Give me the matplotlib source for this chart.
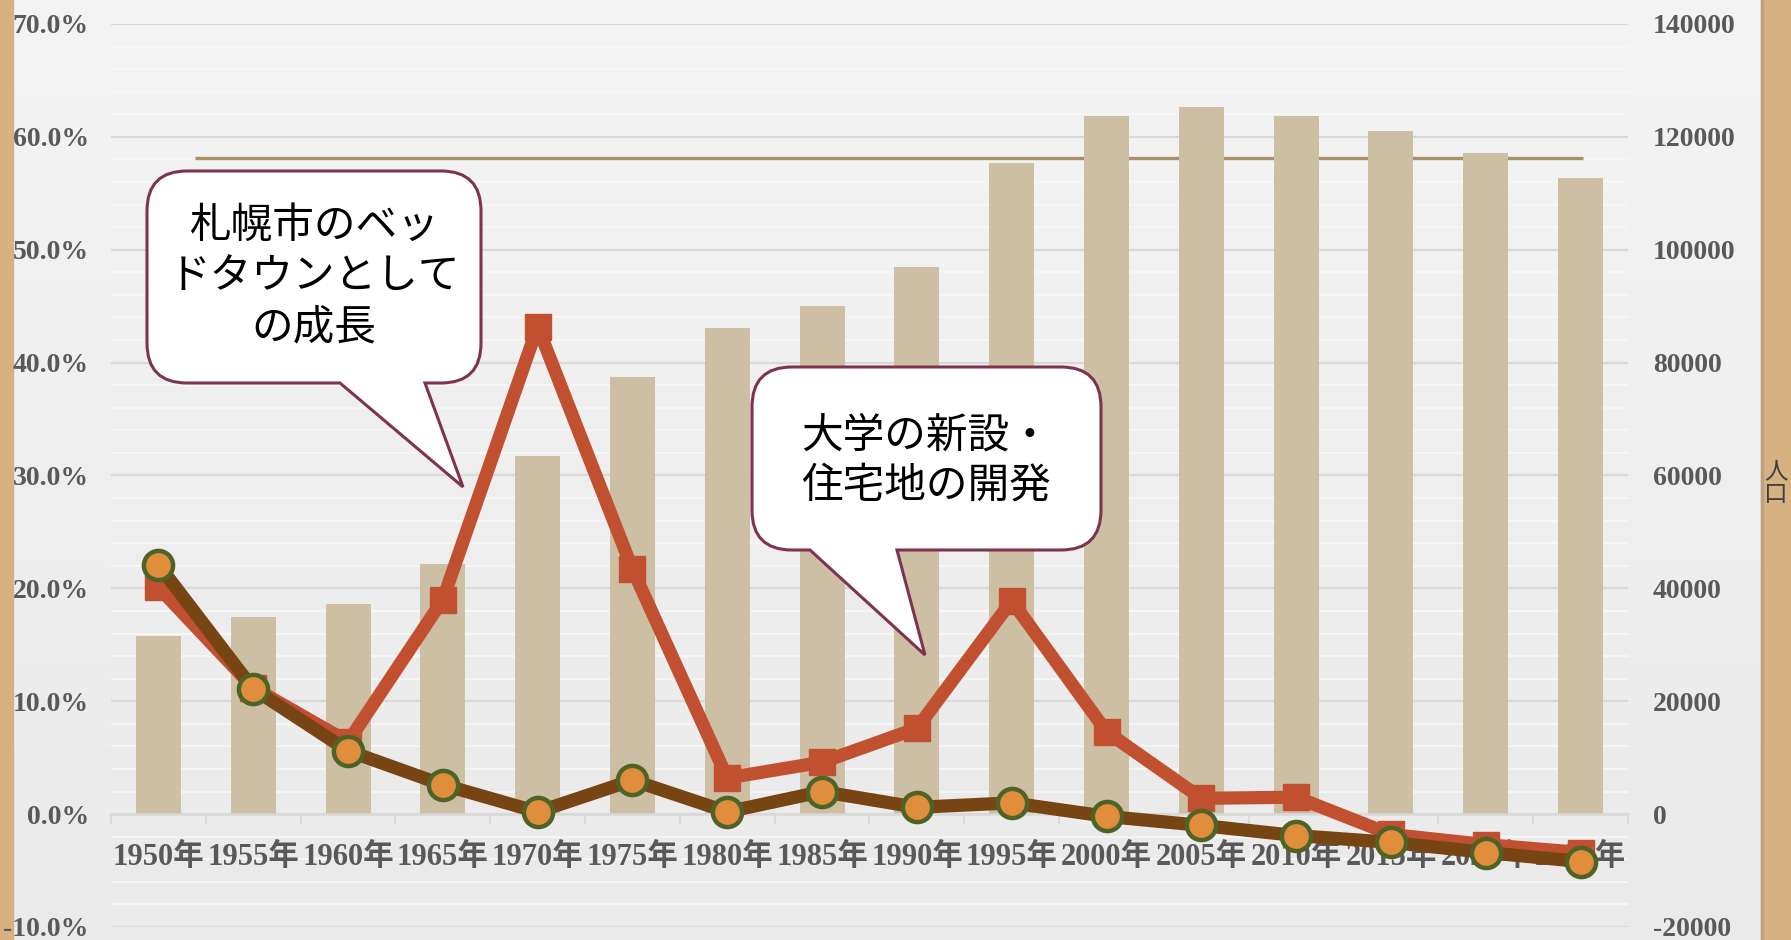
import numpy as np
import matplotlib.pyplot as plt
from matplotlib.patches import Rectangle, PathPatch
from matplotlib.path import Path
from matplotlib.ticker import MultipleLocator, FuncFormatter
from matplotlib.colors import LinearSegmentedColormap

# data
years = ['1950年', '1955年', '1960年', '1965年', '1970年', '1975年', '1980年', '1985年',
         '1990年', '1995年', '2000年', '2005年', '2010年', '2015年', '2020年', '2025年']
population = [31500, 35000, 37200, 44400, 63500, 77400, 86200, 90100,
              97000, 115400, 123700, 125300, 123700, 121000, 117200, 112700]
growth_red = [20.1, 11.2, 6.4, 19.0, 43.2, 21.7, 3.2, 4.6,
              7.6, 18.9, 7.3, 1.4, 1.5, -1.8, -2.7, -3.4]
growth_brown = [22.1, 11.1, 5.6, 2.6, 0.2, 3.0, 0.2, 2.0,
                0.6, 1.0, -0.2, -1.0, -1.9, -2.5, -3.4, -4.2]
ref_level = 116300
callout1 = '札幌市のベッ\nドタウンとして\nの成長'
callout2 = '大学の新設・\n住宅地の開発'

W, H = 1791, 940
plt.rcParams['font.family'] = ['Liberation Serif', 'Noto Sans CJK JP']
plt.rcParams['font.weight'] = 'bold'
plt.rcParams['axes.unicode_minus'] = False
plt.rcParams['xtick.labelsize'] = 22
plt.rcParams['ytick.labelsize'] = 20
plt.rcParams['xtick.labelcolor'] = '#595959'
plt.rcParams['ytick.labelcolor'] = '#595959'

fig = plt.figure(figsize=(W / 100, H / 100), dpi=100)

# paper background (lighter at top)
bg = fig.add_axes([0, 0, 1, 1], zorder=-10)
grad = np.linspace(0, 1, 256).reshape(-1, 1)
cmap = LinearSegmentedColormap.from_list('paper', ['#F4F4F4', '#EAEAEA'])
bg.imshow(grad, aspect='auto', cmap=cmap, extent=[0, 1, 1, 0], origin='upper')
bg.set_xlim(0, 1)
bg.set_ylim(1, 0)
bg.axis('off')

# wooden frame strips
for x0, w, c in [(0, 13, '#D8B183'), (1761, 30, '#D8B183'), (1761, 2, '#BFA07C')]:
    bg.add_patch(Rectangle((x0 / W, 0), w / W, 1, color=c, zorder=5))


def px(x0, y0, x1, y1):
    return [x0 / W, 1 - y1 / H, (x1 - x0) / W, (y1 - y0) / H]


axb = fig.add_axes(px(111, 24, 1628, 927))
axb.patch.set_visible(False)
axl = axb.twinx()
axl.xaxis.set_visible(True)

x = np.arange(len(years))

# bars (right axis)
axb.bar(x, population, width=0.475, color='#CDBFA4', zorder=2)
axb.hlines(ref_level, 0.39, 15.03, color='#A89068', lw=2.4, zorder=1.5)
axb.set_ylim(-20000, 140000)
axb.yaxis.set_major_locator(MultipleLocator(20000))
axb.yaxis.set_minor_locator(MultipleLocator(4000))
axb.set_axisbelow(True)
axb.grid(which='major', axis='y', color='#D9D9D9', lw=1.6)
axb.grid(which='minor', axis='y', color='#F8F8F8', lw=1.2)
axb.yaxis.tick_right()
axb.tick_params(axis='y', which='both', length=0, pad=18)
axb.tick_params(axis='x', which='both', bottom=False, labelbottom=False)
for s in axb.spines.values():
    s.set_visible(False)

# lines (left axis)
axl.plot(x, growth_red, color='#C0502F', lw=9.5, marker='s', ms=19,
         mfc='#C0502F', mec='#C0502F', zorder=3)
axl.plot(x, growth_brown, color='#774414', lw=9.5, marker='o', ms=21,
         mfc='#E08E3C', mec='#4E6328', mew=3.2, zorder=4)
axl.set_ylim(-10, 70)
axl.set_xlim(-0.5, len(years) - 0.5)
axl.yaxis.tick_left()
axl.yaxis.set_major_locator(MultipleLocator(10))
axl.yaxis.set_major_formatter(FuncFormatter(lambda v, p: f'{v:.1f}%'))
axl.tick_params(axis='y', length=0, pad=16)

axl.set_xticks(x, years)
axl.set_xticks(np.arange(-0.5, len(years), 1), minor=True)
axl.tick_params(axis='x', which='major', bottom=True, labelbottom=True,
                length=0, pad=21)
axl.tick_params(axis='x', which='minor', bottom=True, length=7, width=1.6,
                color='#D9D9D9')
for k, s in axl.spines.items():
    s.set_visible(k == 'bottom')
axl.spines['bottom'].set_position(('data', 0))
axl.spines['bottom'].set_color('#D9D9D9')
axl.spines['bottom'].set_linewidth(1.8)

fig.text(1776 / W, 1 - 483 / H, '人\n口', fontsize=17, color='#404040',
         ha='center', va='center', linespacing=1.0, zorder=6,
         family=['Noto Sans CJK JP'], fontweight='normal')


# speech callouts (pixel layout)
def callout(x0, y0, x1, y1, r, tb0, tb1, tip):
    pts = [
        (x0 + r, y0), (x1 - r, y0), (x1, y0), (x1, y0 + r),
        (x1, y1 - r), (x1, y1), (x1 - r, y1),
        (tb1, y1), tip, (tb0, y1),
        (x0 + r, y1), (x0, y1), (x0, y1 - r),
        (x0, y0 + r), (x0, y0), (x0 + r, y0), (x0 + r, y0),
    ]
    codes = [Path.MOVETO, Path.LINETO, Path.CURVE3, Path.CURVE3,
             Path.LINETO, Path.CURVE3, Path.CURVE3,
             Path.LINETO, Path.LINETO, Path.LINETO,
             Path.LINETO, Path.CURVE3, Path.CURVE3,
             Path.LINETO, Path.CURVE3, Path.CURVE3, Path.CLOSEPOLY]
    verts = [(a / W, 1 - b / H) for a, b in pts]
    p = PathPatch(Path(verts, codes), transform=fig.transFigure,
                  facecolor='white', edgecolor='#7E3350', lw=2.2,
                  joinstyle='miter', zorder=7)
    fig.patches.append(p)


callout(147, 171, 481, 383, 40, 340, 425, (463, 487))
fig.text(314 / W, 1 - 277 / H, callout1, fontsize=30, ha='center', va='center',
         linespacing=1.3, color='black', family=['Noto Sans CJK JP'],
         fontweight='normal', zorder=8)

callout(752, 367, 1101, 550, 40, 810, 897, (925, 655))
fig.text(926 / W, 1 - 461 / H, callout2, fontsize=30, ha='center', va='center',
         linespacing=1.3, color='black', family=['Noto Sans CJK JP'],
         fontweight='normal', zorder=8)

fig.savefig('out.png', dpi=100)
